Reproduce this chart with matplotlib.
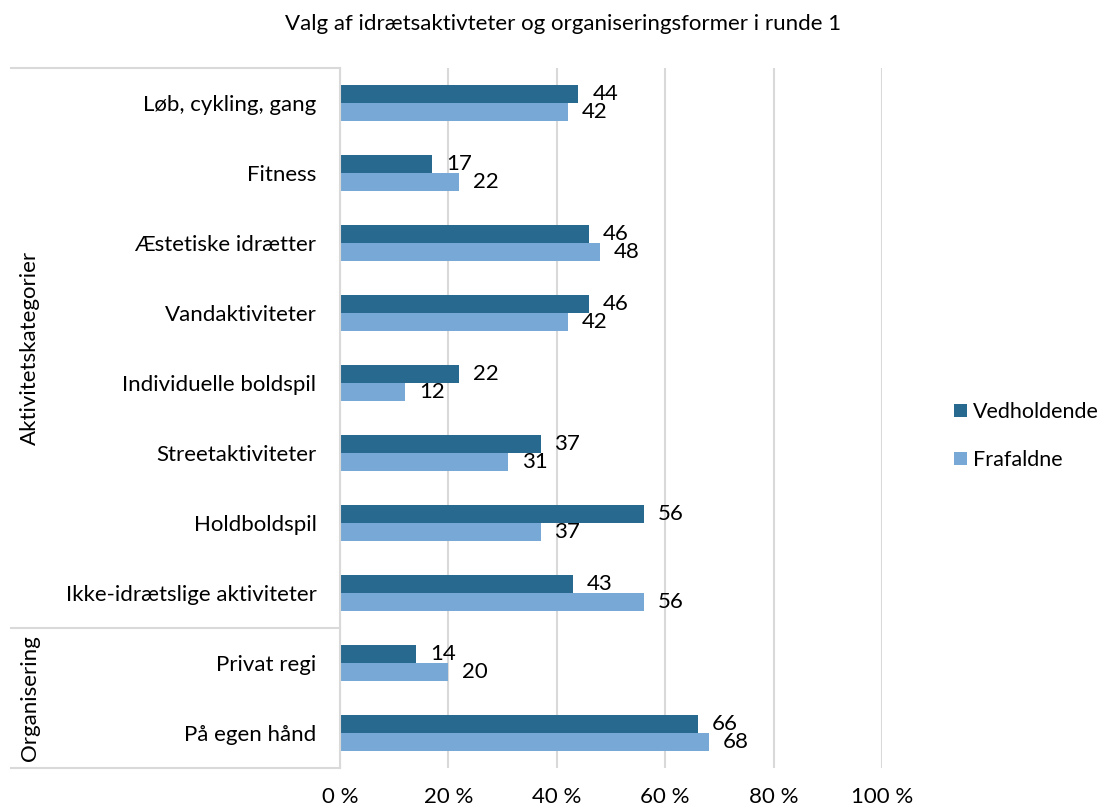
import matplotlib
matplotlib.use("Agg")
import matplotlib.pyplot as plt
import matplotlib.transforms as mtransforms
from matplotlib.lines import Line2D
import numpy as np

# Data
categories = [
    "Løb, cykling, gang", "Fitness", "Æstetiske idrætter", "Vandaktiviteter",
    "Individuelle boldspil", "Streetaktiviteter", "Holdboldspil",
    "Ikke-idrætslige aktiviteter", "Privat regi", "På egen hånd",
]
vedholdende = [44, 17, 46, 46, 22, 37, 56, 43, 14, 66]
frafaldne = [42, 22, 48, 42, 12, 31, 37, 56, 20, 68]
groups = [("Aktivitetskategorier", 0, 7), ("Organisering", 8, 9)]
xticks = [0, 20, 40, 60, 80, 100]

plt.rcParams['font.family'] = ['Lato', 'DejaVu Sans']
FS = 16
DARK = "#28698f"
LIGHT = "#78a9d6"
GRID = "#d9d9d9"

fig = plt.figure(figsize=(11.07, 8.07), dpi=100)
ax = fig.add_axes([340 / 1107, 1 - 768 / 807, 542 / 1107, 700 / 807])

y = np.arange(len(categories))
h = 0.257
b1 = ax.barh(y - h / 2, vedholdende, height=h, color=DARK, label="Vedholdende")
b2 = ax.barh(y + h / 2, frafaldne, height=h, color=LIGHT, label="Frafaldne")
ax.bar_label(b1, fmt="%d", padding=10, fontsize=FS)
ax.bar_label(b2, fmt="%d", padding=10, fontsize=FS)

ax.set_xlim(0, 100)
ax.set_ylim(len(categories) - 0.5, -0.5)
ax.set_xticks(xticks)
ax.set_xticklabels([f"{t} %" for t in xticks], fontsize=FS)
ax.set_yticks(y)
ax.set_yticklabels(categories, fontsize=FS)
ax.tick_params(axis="x", length=0, pad=14)
ax.tick_params(axis="y", length=0, pad=17)
ax.grid(axis="x", color=GRID, linewidth=1.5)
ax.set_axisbelow(True)
for s in ["top", "right", "bottom"]:
    ax.spines[s].set_visible(False)
ax.spines["left"].set_color(GRID)
ax.spines["left"].set_linewidth(1.5)

# Group box on the category axis
tr = mtransforms.blended_transform_factory(fig.transFigure, ax.transData)
x0, x1 = 11 / 1107, 340 / 1107
bounds = sorted({g[1] - 0.5 for g in groups} | {g[2] + 0.5 for g in groups})
for b in bounds:
    fig.add_artist(Line2D([x0, x1], [b, b], transform=tr, color=GRID, linewidth=1.5))
for name, start, end in groups:
    fig.text(30 / 1107, (start + end) / 2, name, transform=tr, rotation=90,
             ha="center", va="center", fontsize=FS)

fig.suptitle("Valg af idrætsaktivteter og organiseringsformer i runde 1",
             x=563 / 1107, y=1 - 24 / 807, va="center", fontsize=FS)

fig.legend(handles=[b1, b2], loc="center left", bbox_to_anchor=(954 / 1107, 1 - 436 / 807),
           frameon=False, fontsize=15.5, borderpad=0, borderaxespad=0,
           handlelength=0.6, handleheight=0.6, handletextpad=0.3, labelspacing=1.3)

fig.savefig("out.png", dpi=100)
